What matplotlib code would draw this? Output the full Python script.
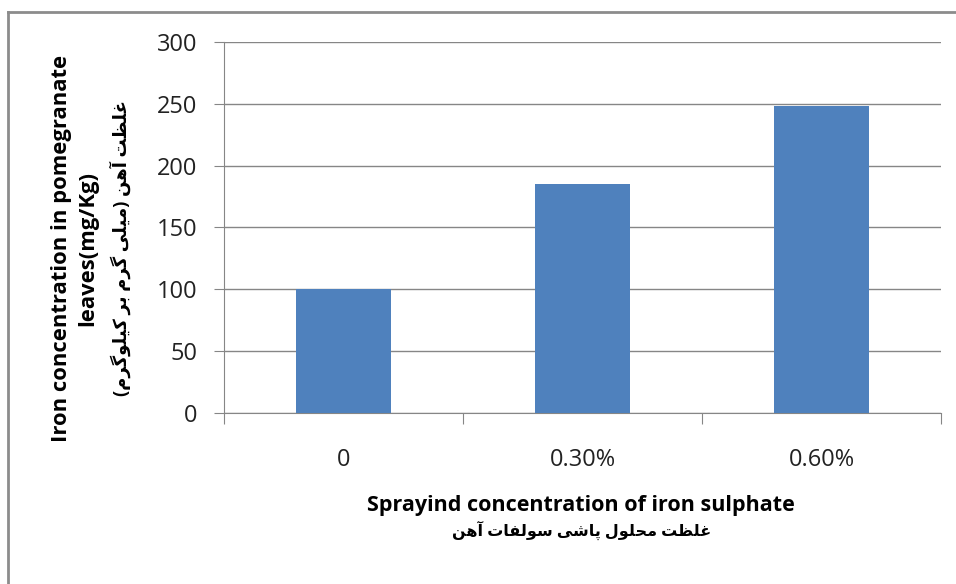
import matplotlib
matplotlib.use("Agg")
import matplotlib.pyplot as plt
from matplotlib.lines import Line2D

plt.rcParams['font.family'] = ['Open Sans', 'DejaVu Sans']

# data
categories = ["0", "0.30%", "0.60%"]
iron_mg_kg = [100, 185, 248]
y_ticks = [0, 50, 100, 150, 200, 250, 300]

ylabel_en = "Iron concentration in pomegranate\nleaves(mg/Kg)"
ylabel_fa = "غلظت آهن (میلی گرم بر کیلوگرم)"
xlabel_en = "Sprayind concentration of iron sulphate"
xlabel_fa = "غلظت محلول پاشی سولفات آهن"

# Persian shaping by hand (matplotlib has no bidi / joining)
# letter: (isolated, final, initial, medial)
FORMS = {
    'ا': (0xFE8D, 0xFE8E, None, None),
    'آ': (0xFE81, 0xFE82, None, None),
    'ر': (0xFEAD, 0xFEAE, None, None),
    'و': (0xFEED, 0xFEEE, None, None),
    'ب': (0xFE8F, 0xFE90, 0xFE91, 0xFE92),
    'پ': (0xFB56, 0xFB57, 0xFB58, 0xFB59),
    'ت': (0xFE95, 0xFE96, 0xFE97, 0xFE98),
    'ح': (0xFEA1, 0xFEA2, 0xFEA3, 0xFEA4),
    'س': (0xFEB1, 0xFEB2, 0xFEB3, 0xFEB4),
    'ش': (0xFEB5, 0xFEB6, 0xFEB7, 0xFEB8),
    'ظ': (0xFEC5, 0xFEC6, 0xFEC7, 0xFEC8),
    'غ': (0xFECD, 0xFECE, 0xFECF, 0xFED0),
    'ف': (0xFED1, 0xFED2, 0xFED3, 0xFED4),
    'ک': (0xFB8E, 0xFB8F, 0xFB90, 0xFB91),
    'گ': (0xFB92, 0xFB93, 0xFB94, 0xFB95),
    'ل': (0xFEDD, 0xFEDE, 0xFEDF, 0xFEE0),
    'م': (0xFEE1, 0xFEE2, 0xFEE3, 0xFEE4),
    'ن': (0xFEE5, 0xFEE6, 0xFEE7, 0xFEE8),
    'ه': (0xFEE9, 0xFEEA, 0xFEEB, 0xFEEC),
    'ی': (0xFBFC, 0xFBFD, 0xFBFE, 0xFBFF),
}
DUAL = {k for k, v in FORMS.items() if v[2] is not None}


def shape_fa(text):
    out = []
    for i, ch in enumerate(text):
        if ch not in FORMS:
            out.append(ch)
            continue
        prev = text[i - 1] if i > 0 else ''
        nxt = text[i + 1] if i + 1 < len(text) else ''
        jp = prev in DUAL
        jn = ch in DUAL and nxt in FORMS
        iso, fin, ini, med = FORMS[ch]
        if jp and jn:
            c = med
        elif jp:
            c = fin
        elif jn:
            c = ini
        else:
            c = iso
        out.append(chr(c))
    s = ''.join(reversed(out))
    return s.translate(str.maketrans('()', ')('))


def main():
    fig = plt.figure(figsize=(9.56, 5.84), dpi=100)
    ax = fig.add_axes([0.2343, 0.2928, 0.750, 0.6353])

    x = list(range(len(categories)))
    ax.bar(x, iron_mg_kg, width=0.4, color='#4F81BD', zorder=3)

    ax.set_xlim(-0.5, len(categories) - 0.5)
    ax.set_ylim(0, 300)
    ax.set_yticks(y_ticks)
    ax.grid(axis='y', color='#868686', linewidth=1, zorder=0)

    # category boundaries as ticks, labels centred on the bars
    ax.set_xticks([i - 0.5 for i in range(len(categories) + 1)])
    ax.set_xticklabels([])
    ax.set_xticks(x, minor=True)
    ax.set_xticklabels(categories, minor=True)
    ax.tick_params(axis='x', which='major', length=8, color='#868686')
    ax.tick_params(axis='x', which='minor', length=0, pad=25, labelsize=17,
                   labelcolor='#222222')
    ax.tick_params(axis='y', length=7, color='#868686', pad=12, labelsize=17,
                   labelcolor='#222222')

    for side in ['top', 'right']:
        ax.spines[side].set_visible(False)
    for side in ['left', 'bottom']:
        ax.spines[side].set_color('#868686')

    # y label: two English lines + Persian line
    fig.text(0.078, 0.5753, ylabel_en, rotation=90, ha='center', va='center',
             multialignment='center', fontsize=15.8, fontweight='bold',
             linespacing=1.3)
    fig.text(0.1255, 0.5753, shape_fa(ylabel_fa), rotation=90, ha='center',
             va='center', fontsize=13, fontweight='bold')

    # x label: English + Persian line
    fig.text(0.608, 0.135, xlabel_en, ha='center', va='center',
             fontsize=15.5, fontweight='bold')
    fig.text(0.608, 0.092, shape_fa(xlabel_fa), ha='center', va='center',
             fontsize=11.5, fontweight='bold')

    # chart-area border (only top and left edges are in view)
    fig.add_artist(Line2D([0.0084, 1.0], [0.9795, 0.9795], color='#8c8c8c',
                          linewidth=2, transform=fig.transFigure))
    fig.add_artist(Line2D([0.0084, 0.0084], [0.0, 0.9795], color='#8c8c8c',
                          linewidth=2, transform=fig.transFigure))

    fig.savefig("out.png", dpi=100)


if __name__ == "__main__":
    main()
